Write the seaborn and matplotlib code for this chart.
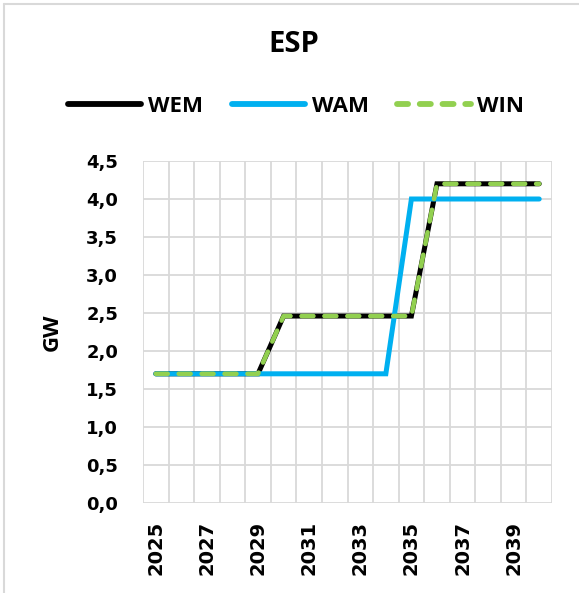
import matplotlib
matplotlib.use("Agg")
import matplotlib.pyplot as plt
import seaborn as sns
import pandas as pd
import numpy as np
from matplotlib.lines import Line2D

years = list(range(2025, 2041))
wem = [1.7, 1.7, 1.7, 1.7, 1.7, 2.46, 2.46, 2.46, 2.46, 2.46, 2.46, 4.2, 4.2, 4.2, 4.2, 4.2]
wam = [1.7, 1.7, 1.7, 1.7, 1.7, 1.7, 1.7, 1.7, 1.7, 1.7, 4.0, 4.0, 4.0, 4.0, 4.0, 4.0]
win = [1.7, 1.7, 1.7, 1.7, 1.7, 2.46, 2.46, 2.46, 2.46, 2.46, 2.46, 4.2, 4.2, 4.2, 4.2, 4.2]
series_names = ["WEM", "WAM", "WIN"]
yticks = [0.0, 0.5, 1.0, 1.5, 2.0, 2.5, 3.0, 3.5, 4.0, 4.5]
title = "ESP"
ylabel = "GW"

sns.set_theme(style="white")
plt.rcParams['font.family'] = ['Open Sans', 'DejaVu Sans']
plt.rcParams['font.weight'] = 'bold'
for k in ["text.color", "xtick.color", "ytick.color", "axes.labelcolor"]:
    plt.rcParams[k] = "black"

df = pd.DataFrame({"idx": np.arange(len(years)), "WEM": wem, "WAM": wam, "WIN": win})

fig = plt.figure(figsize=(5.79, 5.93), dpi=100)
# chart-area frame: only left and top edges are visible in the crop
fig.add_artist(Line2D([4/579, 4/579], [0, 1 - 4/593], transform=fig.transFigure,
                      color="#D9D9D9", linewidth=1.5))
fig.add_artist(Line2D([4/579, 1], [1 - 4/593, 1 - 4/593], transform=fig.transFigure,
                      color="#D9D9D9", linewidth=1.5))
ax = fig.add_axes([143/579, 1 - 503/593, (552 - 143)/579, (503 - 161)/593])

lw = 3.6
sns.lineplot(data=df, x="idx", y="WEM", ax=ax, color="black", linewidth=lw, label="WEM")
sns.lineplot(data=df, x="idx", y="WAM", ax=ax, color="#00B0F0", linewidth=lw, label="WAM")
sns.lineplot(data=df, x="idx", y="WIN", ax=ax, color="#92D050", linewidth=3.3, label="WIN")
for l in ax.get_lines():
    l.set_solid_capstyle("round")
    l.set_dash_capstyle("round")
    l.set_solid_joinstyle("miter")
ax.get_lines()[2].set_linestyle((0, (2.6, 2.4)))

ax.set_xlim(-0.5, len(years) - 0.5)
ax.set_ylim(0, 4.5)
ax.set_xticks(np.arange(0, len(years), 2))
ax.set_xticklabels([str(y) for y in years[::2]], rotation=90, fontsize=14,
                   fontweight="bold", family="DejaVu Sans")
ax.set_xticks(np.arange(-0.5, len(years), 1), minor=True)
ax.set_yticks(yticks)
ax.set_yticklabels([f"{v:.1f}".replace(".", ",") for v in yticks], fontsize=13,
                   fontweight="bold", family="DejaVu Sans")
ax.grid(False)
ax.grid(True, which="minor", axis="x", color="#D9D9D9", linewidth=1.3)
ax.grid(True, which="major", axis="y", color="#D9D9D9", linewidth=1.3)
ax.tick_params(axis="both", which="both", length=0)
ax.tick_params(axis="x", pad=13)
ax.tick_params(axis="y", pad=18)
for s in ax.spines.values():
    s.set_visible(False)
ax.set_xlabel("")
ax.set_ylabel(ylabel, fontsize=16, fontweight="bold")
ax.yaxis.set_label_coords((63 - 143) / 409, 0.5)

leg = ax.legend(loc="center", bbox_to_anchor=(296/579, 1 - 106/593),
                bbox_transform=fig.transFigure, ncol=3, frameon=False,
                handlelength=3.3, handletextpad=0.3, columnspacing=1.3,
                prop={"size": 16, "weight": "bold"})
for h in leg.get_lines():
    h.set_solid_capstyle("round")
    h.set_dash_capstyle("round")
    h.set_linewidth(4.2)
leg.get_lines()[2].set_linestyle((0, (1.9, 2.0)))
fig.text(294/579, 1 - 44/593, title, ha="center", va="center", fontsize=21, fontweight="bold")

fig.savefig("out.png", dpi=100)
